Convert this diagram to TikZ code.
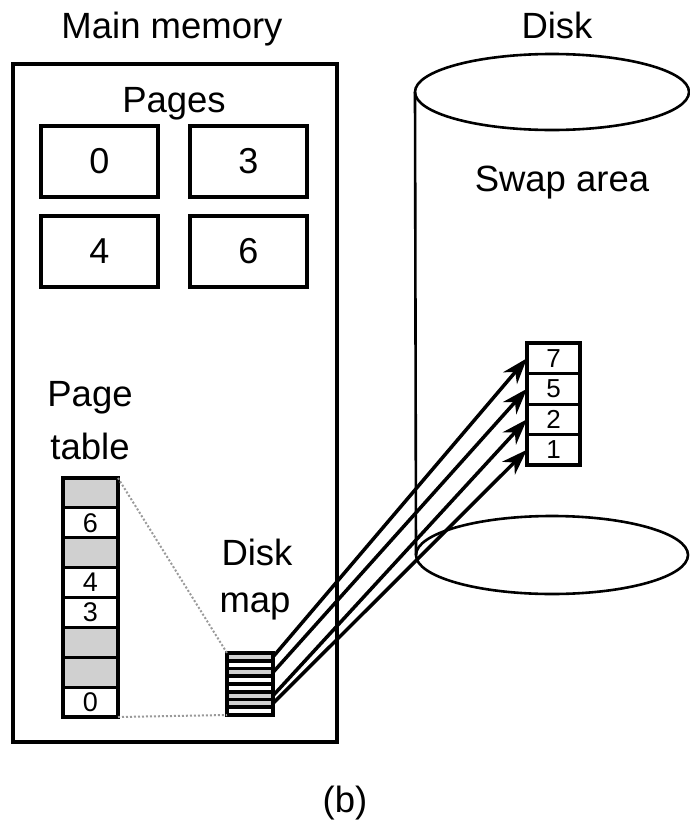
\documentclass[tikz,border=0pt]{standalone}
\usepackage{fontspec}
\setmainfont{Liberation Sans}
\usetikzlibrary{arrows.meta}
\definecolor{cellgray}{HTML}{D0D0D0}
\definecolor{dotgray}{HTML}{9A9A9A}
\begin{document}
\begin{tikzpicture}[x=1pt,y=-1pt,
  lbl/.style={font=\fontsize{36.5}{42}\selectfont, anchor=base, inner sep=0pt},
  pagebox/.style={draw, line width=4pt, minimum width=117pt, minimum height=71pt, inner sep=0pt, font=\fontsize{36}{40}\selectfont},
  ptcell/.style={draw, line width=2.8pt, minimum width=55pt, minimum height=29.875pt, inner sep=0pt, outer sep=0pt, font=\fontsize{27}{30}\selectfont},
  dmcell/.style={draw, line width=3.8pt, minimum width=46pt, minimum height=7.75pt, inner sep=0pt, outer sep=0pt},
  slot/.style={draw, line width=3pt, minimum width=53pt, minimum height=30.5pt, inner sep=0pt, outer sep=0pt, font=\fontsize{26}{29}\selectfont},
  link/.style={line width=3.5pt, -{Stealth[length=26pt,width=18pt,inset=8pt]}},
  dotline/.style={dotted, dotgray, line width=2pt},
  cyl/.style={line width=2.6pt}]
\useasboundingbox (0,0) rectangle (689,825);

% labels
\node[lbl] (lmm) at (172,38) {Main memory};
\node[lbl] (ldisk) at (557,38) {Disk};
\node[lbl] (lpages) at (174,112) {Pages};
\node[lbl] (lswap) at (562,191) {Swap area};
\node[lbl] (lpage) at (90,406) {Page};
\node[lbl] (ltable) at (90,459) {table};
\node[lbl] (ldm1) at (257,565) {Disk};
\node[lbl] (ldm2) at (255,612) {map};
\node[lbl] (lb) at (345,812) {(b)};

% main memory box
\node[draw, line width=4pt, minimum width=324pt, minimum height=678pt, inner sep=0pt] (mm) at (175,403) {};

% pages
\node[pagebox] (p0) at (99.5,161.5) {0};
\node[pagebox] (p3) at (248.5,161.5) {3};
\node[pagebox] (p4) at (99.5,251) {4};
\node[pagebox] (p6) at (248.5,251) {6};

% page table
\node[ptcell, fill=cellgray] (pt1) at (90.5,492.94) {};
\node[ptcell] (pt2) at (90.5,522.81) {6};
\node[ptcell, fill=cellgray] (pt3) at (90.5,552.69) {};
\node[ptcell] (pt4) at (90.5,582.56) {4};
\node[ptcell] (pt5) at (90.5,612.44) {3};
\node[ptcell, fill=cellgray] (pt6) at (90.5,642.31) {};
\node[ptcell, fill=cellgray] (pt7) at (90.5,672.19) {};
\node[ptcell] (pt8) at (90.5,702.06) {0};
\draw[line width=3.8pt] (pt1.north west) rectangle (pt8.south east);

% disk map
\node[dmcell, fill=cellgray] (dm1) at (250,656.88) {};
\node[dmcell] (dm2) at (250,664.63) {};
\node[dmcell, fill=cellgray] (dm3) at (250,672.38) {};
\node[dmcell] (dm4) at (250,680.13) {};
\node[dmcell] (dm5) at (250,687.88) {};
\node[dmcell, fill=cellgray] (dm6) at (250,695.63) {};
\node[dmcell, fill=cellgray] (dm7) at (250,703.38) {};
\node[dmcell] (dm8) at (250,711.13) {};
\draw[line width=3.8pt] (dm1.north west) rectangle (dm8.south east);

% dotted correspondence
\draw[dotline] (pt1.north east) -- (dm1.north west);
\draw[dotline] (pt8.south east) -- (dm8.south west);

% disk cylinder
\draw[cyl] (552,92) ellipse [x radius=137, y radius=38];
\draw[cyl] (552,555) ellipse [x radius=136, y radius=39];
\coordinate (cyltop) at (415,92);
\coordinate (cylbot) at (416,555);
\draw[cyl] (cyltop) -- (cylbot);

% swap slots
\node[slot] (s7) at (553.5,358.25) {7};
\node[slot] (s5) at (553.5,388.75) {5};
\node[slot] (s2) at (553.5,419.25) {2};
\node[slot] (s1) at (553.5,449.75) {1};
\draw[line width=3.6pt] (s7.north west) rectangle (s1.south east);

% arrows
\draw[link] (dm1.east) -- (s7.west);
\draw[link] (dm3.east) -- (s5.west);
\draw[link] (dm6.east) -- (s2.west);
\draw[link] (dm7.east) -- (s1.west);
\end{tikzpicture}
\end{document}
